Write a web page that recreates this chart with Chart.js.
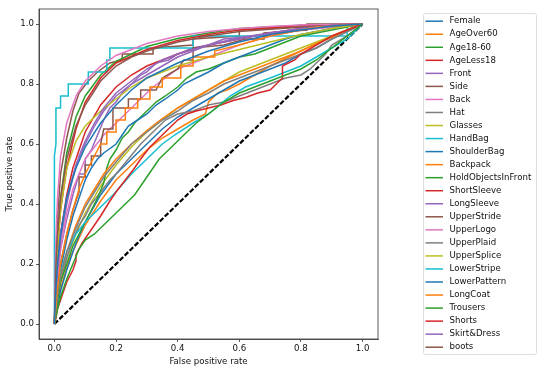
<!DOCTYPE html>
<html>
<head>
<meta charset="utf-8">
<script src="https://cdn.jsdelivr.net/npm/chart.js@4.4.0/dist/chart.umd.min.js"></script>
<style>
  html, body { margin: 0; padding: 0; background: #fff; }
</style>
</head>
<body>
<canvas id="rocChart" width="550" height="374"></canvas>
<script>
// attribute names, in legend order
const attributes = ['Female', 'AgeOver60', 'Age18-60', 'AgeLess18', 'Front', 'Side', 'Back', 'Hat',
  'Glasses', 'HandBag', 'ShoulderBag', 'Backpack', 'HoldObjectsInFront', 'ShortSleeve', 'LongSleeve',
  'UpperStride', 'UpperLogo', 'UpperPlaid', 'UpperSplice', 'LowerStripe', 'LowerPattern', 'LongCoat',
  'Trousers', 'Shorts', 'Skirt&Dress', 'boots'];

// ROC points [fpr, tpr]
const female = [[0,0],[0.005,0.12],[0.01,0.2],[0.02,0.3],[0.04,0.42],[0.07,0.52],[0.1,0.59],[0.15,0.67],[0.2,0.73],[0.25,0.78],[0.3,0.82],[0.4,0.87],[0.5,0.91],[0.6,0.94],[0.7,0.965],[0.8,0.98],[0.9,0.993],[1,1]];
const ageOver60 = [[0,0],[0.01,0.12],[0.02,0.2],[0.04,0.3],[0.06,0.38],[0.08,0.45],[0.1,0.5],[0.12,0.54],[0.15,0.6],[0.17,0.6],[0.17,0.64],[0.2,0.64],[0.2,0.68],[0.23,0.68],[0.23,0.72],[0.27,0.72],[0.27,0.75],[0.31,0.75],[0.31,0.79],[0.35,0.79],[0.35,0.82],[0.41,0.82],[0.41,0.86],[0.45,0.86],[0.45,0.89],[0.52,0.89],[0.52,0.91],[0.6,0.93],[0.7,0.96],[0.85,0.99],[1,1]];
const age18to60 = [[0,0],[0.01,0.05],[0.02,0.09],[0.04,0.15],[0.06,0.2],[0.08,0.25],[0.1,0.28],[0.13,0.3],[0.16,0.33],[0.2,0.37],[0.23,0.4],[0.26,0.43],[0.3,0.49],[0.34,0.55],[0.38,0.59],[0.42,0.63],[0.46,0.67],[0.5,0.7],[0.55,0.74],[0.6,0.77],[0.65,0.79],[0.7,0.81],[0.75,0.83],[0.8,0.85],[0.85,0.88],[0.9,0.92],[0.95,0.96],[1,1]];
const ageLess18 = [[0,0],[0.005,0.02],[0.01,0.05],[0.02,0.08],[0.03,0.11],[0.04,0.14],[0.05,0.16],[0.06,0.18],[0.07,0.21],[0.07,0.23],[0.09,0.27],[0.11,0.3],[0.13,0.33],[0.15,0.36],[0.18,0.41],[0.2,0.44],[0.23,0.48],[0.26,0.52],[0.28,0.55],[0.31,0.59],[0.34,0.62],[0.37,0.65],[0.4,0.68],[0.43,0.7],[0.46,0.71],[0.5,0.72],[0.54,0.73],[0.58,0.745],[0.62,0.755],[0.66,0.77],[0.7,0.78],[0.72,0.8],[0.74,0.82],[0.74,0.86],[0.78,0.88],[0.8,0.9],[0.85,0.93],[0.9,0.96],[0.95,0.98],[1,1]];
const front = [[0,0],[0.005,0.1],[0.01,0.18],[0.02,0.28],[0.04,0.4],[0.06,0.49],[0.08,0.56],[0.1,0.61],[0.13,0.67],[0.16,0.72],[0.2,0.77],[0.25,0.81],[0.3,0.85],[0.35,0.88],[0.4,0.9],[0.5,0.93],[0.6,0.955],[0.7,0.97],[0.8,0.985],[0.9,0.995],[1,1]];
const side = [[0,0],[0.005,0.2],[0.01,0.3],[0.02,0.42],[0.04,0.55],[0.07,0.66],[0.1,0.73],[0.15,0.81],[0.2,0.86],[0.25,0.89],[0.3,0.91],[0.4,0.94],[0.5,0.96],[0.6,0.975],[0.8,0.99],[1,1]];
const back = [[0,0],[0.003,0.2],[0.006,0.32],[0.01,0.42],[0.02,0.56],[0.04,0.67],[0.07,0.76],[0.1,0.81],[0.15,0.86],[0.2,0.895],[0.3,0.935],[0.4,0.96],[0.5,0.975],[0.6,0.985],[0.7,0.992],[0.8,0.997],[1,1]];
const hat = [[0,0],[0.005,0.05],[0.01,0.1],[0.02,0.16],[0.04,0.24],[0.07,0.32],[0.1,0.39],[0.13,0.44],[0.16,0.49],[0.2,0.54],[0.25,0.6],[0.3,0.64],[0.35,0.68],[0.4,0.71],[0.45,0.745],[0.5,0.77],[0.55,0.8],[0.6,0.82],[0.65,0.84],[0.7,0.86],[0.75,0.88],[0.8,0.9],[0.85,0.92],[0.9,0.95],[0.95,0.975],[1,1]];
const glasses = [[0,0],[0.005,0.15],[0.01,0.25],[0.02,0.38],[0.04,0.52],[0.07,0.61],[0.1,0.66],[0.15,0.71],[0.2,0.75],[0.25,0.79],[0.3,0.82],[0.35,0.84],[0.4,0.86],[0.5,0.89],[0.6,0.915],[0.7,0.94],[0.8,0.965],[0.9,0.985],[1,1]];
const handBag = [[0,0],[0.005,0.07],[0.01,0.12],[0.02,0.17],[0.04,0.24],[0.07,0.3],[0.1,0.34],[0.15,0.39],[0.19,0.43],[0.25,0.5],[0.31,0.56],[0.35,0.6],[0.39,0.63],[0.45,0.67],[0.5,0.7],[0.57,0.76],[0.62,0.79],[0.7,0.82],[0.75,0.84],[0.8,0.86],[0.85,0.89],[0.9,0.92],[0.95,0.95],[1,1]];
const shoulderBag = [[0,0],[0.01,0.1],[0.02,0.18],[0.04,0.28],[0.06,0.36],[0.08,0.42],[0.1,0.48],[0.12,0.52],[0.14,0.55],[0.16,0.57],[0.2,0.6],[0.22,0.63],[0.24,0.66],[0.27,0.68],[0.3,0.7],[0.33,0.73],[0.36,0.75],[0.4,0.78],[0.42,0.8],[0.46,0.82],[0.5,0.84],[0.55,0.87],[0.6,0.89],[0.65,0.91],[0.7,0.93],[0.75,0.95],[0.8,0.965],[0.9,0.985],[1,1]];
const backpack = [[0,0],[0.005,0.06],[0.01,0.1],[0.02,0.16],[0.04,0.24],[0.07,0.33],[0.1,0.4],[0.13,0.45],[0.16,0.5],[0.2,0.55],[0.25,0.6],[0.3,0.645],[0.35,0.685],[0.4,0.72],[0.45,0.75],[0.5,0.78],[0.55,0.81],[0.6,0.83],[0.65,0.85],[0.7,0.87],[0.75,0.89],[0.8,0.91],[0.85,0.935],[0.9,0.955],[0.95,0.98],[1,1]];
const holdObjectsInFront = [[0,0],[0.01,0.08],[0.02,0.14],[0.04,0.2],[0.06,0.26],[0.08,0.3],[0.1,0.34],[0.12,0.38],[0.14,0.42],[0.16,0.47],[0.17,0.52],[0.18,0.55],[0.2,0.58],[0.22,0.62],[0.24,0.64],[0.26,0.67],[0.28,0.69],[0.3,0.71],[0.33,0.74],[0.36,0.76],[0.4,0.79],[0.43,0.82],[0.46,0.84],[0.5,0.85],[0.55,0.87],[0.6,0.89],[0.65,0.9],[0.7,0.92],[0.8,0.96],[0.9,0.98],[1,1]];
const shortSleeve = [[0,0],[0.005,0.15],[0.01,0.25],[0.02,0.38],[0.04,0.52],[0.07,0.65],[0.1,0.74],[0.15,0.82],[0.2,0.87],[0.3,0.915],[0.4,0.945],[0.5,0.965],[0.6,0.98],[0.8,0.995],[1,1]];
const longSleeve = [[0,0],[0.01,0.2],[0.02,0.3],[0.04,0.42],[0.07,0.53],[0.1,0.6],[0.13,0.66],[0.16,0.71],[0.2,0.76],[0.25,0.8],[0.3,0.83],[0.35,0.86],[0.4,0.89],[0.45,0.91],[0.5,0.93],[0.6,0.95],[0.7,0.97],[0.8,0.985],[1,1]];
const upperStride = [[0,0],[0.01,0.1],[0.02,0.2],[0.04,0.3],[0.06,0.38],[0.08,0.44],[0.08,0.49],[0.1,0.49],[0.1,0.53],[0.12,0.53],[0.12,0.56],[0.15,0.56],[0.15,0.6],[0.16,0.65],[0.19,0.65],[0.19,0.72],[0.24,0.72],[0.24,0.75],[0.28,0.75],[0.28,0.78],[0.33,0.78],[0.35,0.82],[0.4,0.85],[0.42,0.88],[0.45,0.88],[0.45,0.92],[0.55,0.93],[0.62,0.95],[0.68,0.95],[0.68,0.97],[0.82,0.98],[0.82,1],[1,1]];
const upperLogo = [[0,0],[0.005,0.08],[0.01,0.15],[0.02,0.25],[0.04,0.37],[0.06,0.45],[0.08,0.5],[0.1,0.55],[0.13,0.59],[0.16,0.63],[0.2,0.67],[0.24,0.71],[0.28,0.75],[0.32,0.79],[0.36,0.82],[0.4,0.85],[0.45,0.87],[0.5,0.89],[0.55,0.91],[0.6,0.93],[0.7,0.96],[0.8,0.98],[0.9,0.99],[1,1]];
const upperPlaid = [[0,0],[0.01,0.08],[0.02,0.14],[0.04,0.22],[0.06,0.28],[0.08,0.33],[0.1,0.36],[0.12,0.4],[0.15,0.44],[0.18,0.48],[0.2,0.5],[0.24,0.55],[0.28,0.6],[0.32,0.64],[0.36,0.68],[0.4,0.7],[0.45,0.71],[0.5,0.73],[0.55,0.74],[0.6,0.76],[0.65,0.78],[0.7,0.8],[0.75,0.82],[0.8,0.83],[0.83,0.85],[0.85,0.87],[0.88,0.9],[0.9,0.93],[0.95,0.96],[1,1]];
const upperSplice = [[0,0],[0.01,0.08],[0.02,0.14],[0.04,0.22],[0.07,0.3],[0.1,0.37],[0.15,0.46],[0.2,0.53],[0.25,0.59],[0.3,0.64],[0.35,0.68],[0.4,0.72],[0.45,0.75],[0.5,0.78],[0.55,0.81],[0.6,0.84],[0.65,0.86],[0.7,0.88],[0.8,0.92],[0.9,0.96],[1,1]];
const lowerStripe = [[0,0],[0,0.56],[0.005,0.6],[0.005,0.72],[0.02,0.72],[0.02,0.76],[0.045,0.76],[0.045,0.8],[0.11,0.8],[0.11,0.84],[0.17,0.84],[0.17,0.88],[0.18,0.88],[0.18,0.92],[0.45,0.92],[0.45,0.96],[0.95,0.96],[0.95,1],[1,1]];
const lowerPattern = [[0,0],[0.01,0.06],[0.02,0.11],[0.04,0.18],[0.07,0.27],[0.1,0.34],[0.15,0.43],[0.2,0.5],[0.25,0.55],[0.3,0.6],[0.35,0.65],[0.4,0.69],[0.45,0.72],[0.5,0.75],[0.55,0.78],[0.6,0.81],[0.65,0.83],[0.7,0.85],[0.75,0.87],[0.8,0.9],[0.85,0.92],[0.9,0.95],[0.95,0.975],[1,1]];
const longCoat = [[0,0],[0.01,0.07],[0.02,0.12],[0.05,0.22],[0.1,0.33],[0.15,0.41],[0.2,0.48],[0.25,0.53],[0.3,0.58],[0.35,0.62],[0.4,0.65],[0.45,0.68],[0.49,0.7],[0.5,0.74],[0.53,0.77],[0.56,0.78],[0.6,0.8],[0.7,0.86],[0.8,0.91],[0.9,0.96],[1,1]];
const trousers = [[0,0],[0.005,0.18],[0.01,0.28],[0.02,0.42],[0.04,0.57],[0.07,0.69],[0.1,0.76],[0.15,0.83],[0.2,0.875],[0.3,0.925],[0.4,0.952],[0.5,0.97],[0.6,0.985],[0.8,0.996],[1,1]];
const shorts = [[0,0],[0.005,0.1],[0.01,0.18],[0.02,0.3],[0.04,0.43],[0.06,0.52],[0.1,0.64],[0.15,0.73],[0.2,0.79],[0.25,0.83],[0.3,0.86],[0.35,0.88],[0.4,0.9],[0.45,0.915],[0.5,0.93],[0.6,0.95],[0.7,0.97],[0.8,0.985],[1,1]];
const skirtDress = [[0,0],[0.01,0.15],[0.02,0.25],[0.04,0.35],[0.06,0.43],[0.08,0.5],[0.1,0.5],[0.1,0.55],[0.12,0.58],[0.14,0.63],[0.16,0.68],[0.18,0.72],[0.2,0.74],[0.22,0.77],[0.25,0.8],[0.28,0.83],[0.3,0.84],[0.33,0.87],[0.37,0.88],[0.4,0.9],[0.45,0.92],[0.5,0.93],[0.55,0.95],[0.65,0.96],[0.7,0.97],[0.8,0.98],[0.9,0.99],[1,1]];
const boots = [[0,0],[0.005,0.2],[0.01,0.35],[0.02,0.5],[0.04,0.62],[0.06,0.71],[0.08,0.77],[0.11,0.81],[0.14,0.84],[0.18,0.87],[0.22,0.88],[0.22,0.9],[0.32,0.9],[0.32,0.92],[0.45,0.93],[0.45,0.95],[0.6,0.96],[0.6,0.98],[0.8,0.99],[1,1]];

const curves = [female, ageOver60, age18to60, ageLess18, front, side, back, hat, glasses, handBag,
  shoulderBag, backpack, holdObjectsInFront, shortSleeve, longSleeve, upperStride, upperLogo, upperPlaid,
  upperSplice, lowerStripe, lowerPattern, longCoat, trousers, shorts, skirtDress, boots];
const chanceLine = [[0,0],[1,1]];

const tickValues = [0, 0.2, 0.4, 0.6, 0.8, 1.0];
const tickLabels = ['0.0', '0.2', '0.4', '0.6', '0.8', '1.0'];

// matplotlib default colour cycle
const palette = ['#1f77b4', '#ff7f0e', '#2ca02c', '#d62728', '#9467bd',
  '#8c564b', '#e377c2', '#7f7f7f', '#bcbd22', '#17becf'];

const FONT = 'DejaVu Sans';
const FS = 8.6;
const LW = 1.5;

const toXY = pts => pts.map(p => ({ x: p[0], y: p[1] }));

const datasets = curves.map((pts, i) => ({
  label: attributes[i],
  data: toXY(pts),
  borderColor: palette[i % palette.length],
  borderWidth: LW,
  pointRadius: 0,
  fill: false,
  tension: 0
}));
datasets.push({
  label: 'chance',
  data: toXY(chanceLine),
  borderColor: '#000',
  borderWidth: 2.2,
  borderDash: [5, 2],
  pointRadius: 0,
  fill: false
});

// top and right spines like matplotlib's box
const framePlugin = {
  id: 'frame',
  afterDatasetsDraw(chart) {
    const { ctx, chartArea: a } = chart;
    ctx.save();
    ctx.strokeStyle = '#333';
    ctx.lineWidth = 0.8;
    ctx.strokeRect(a.left, a.top, a.right - a.left, a.bottom - a.top);
    ctx.restore();
  }
};

// legend box on the right
const legendPlugin = {
  id: 'sideLegend',
  afterDraw(chart) {
    const ctx = chart.ctx;
    const x0 = 423, y0 = 13, w = 113, h = 341;
    ctx.save();
    ctx.fillStyle = 'rgba(255,255,255,0.8)';
    ctx.strokeStyle = '#d6d6d6';
    ctx.lineWidth = 0.8;
    ctx.beginPath();
    ctx.roundRect(x0 + 0.5, y0 + 0.5, w, h, 2);
    ctx.fill();
    ctx.stroke();
    ctx.font = FS + 'px "' + FONT + '"';
    ctx.textBaseline = 'middle';
    ctx.textAlign = 'left';
    attributes.forEach((name, i) => {
      const y = 21.2 + i * 13.04;
      ctx.strokeStyle = chart.data.datasets[i].borderColor;
      ctx.lineWidth = LW;
      ctx.beginPath();
      ctx.moveTo(425.5, y);
      ctx.lineTo(443, y);
      ctx.stroke();
      ctx.fillStyle = '#111';
      ctx.fillText(name, 449.5, y);
    });
    ctx.restore();
  }
};

const axisCommon = {
  type: 'linear',
  min: -0.05,
  max: 1.05,
  afterBuildTicks: s => { s.ticks = tickValues.map(v => ({ value: v })); },
  ticks: {
    callback: (v, i) => tickLabels[i],
    font: { family: FONT, size: FS },
    color: '#111',
    padding: 2,
    autoSkip: false,
    maxRotation: 0
  },
  grid: { drawOnChartArea: false, tickLength: 3, color: '#333', lineWidth: 0.8 },
  border: { display: true, color: '#333', width: 0.8 }
};

new Chart(document.getElementById('rocChart'), {
  type: 'line',
  data: { datasets },
  options: {
    responsive: false,
    animation: false,
    devicePixelRatio: 1,
    layout: { padding: { left: 0, top: 9, right: 172, bottom: 0 } },
    plugins: { legend: { display: false }, tooltip: { enabled: false } },
    scales: {
      x: {
        ...axisCommon,
        afterFit: s => { s.height = 35; },
        title: { display: true, text: 'False positive rate', color: '#111',
          font: { family: FONT, size: FS }, padding: { top: 0, bottom: 6.8 } }
      },
      y: {
        ...axisCommon,
        afterFit: s => { s.width = 39; },
        title: { display: true, text: 'True positive rate', color: '#111',
          font: { family: FONT, size: FS }, padding: { top: 4.8, bottom: 0 } }
      }
    }
  },
  plugins: [framePlugin, legendPlugin]
});
</script>
</body>
</html>
